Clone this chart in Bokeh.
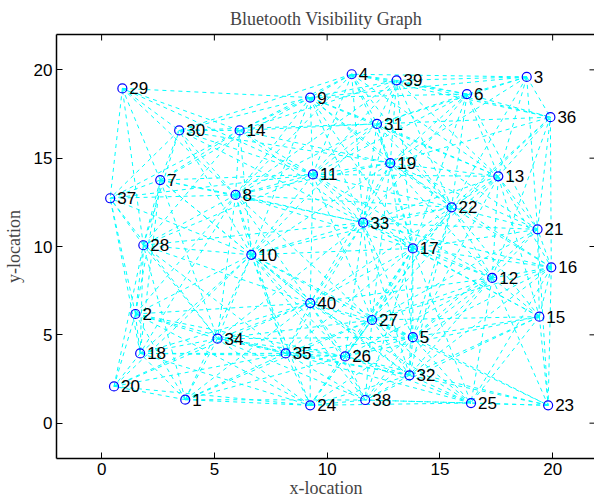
from bokeh.plotting import figure
from bokeh.models import LinearAxis, Range1d, FixedTicker, ColumnDataSource
from bokeh.embed import file_html
from bokeh.resources import INLINE
from bokeh.core.properties import value

# Node positions (ids 1..40)
node_id = list(range(1, 41))
node_x = [3.71, 1.50, 18.85, 11.09, 13.80, 16.20, 2.60, 5.94, 9.25, 6.64,
          9.37, 17.32, 17.59, 6.12, 19.41, 19.94, 13.80, 1.71, 12.80, 0.55,
          19.33, 15.52, 19.80, 9.25, 16.38, 10.80, 11.99, 1.85, 0.92, 3.44,
          12.21, 13.65, 11.60, 5.14, 8.16, 19.90, 0.38, 11.69, 13.08, 9.25]
node_y = [1.33, 6.18, 19.60, 19.75, 4.87, 18.63, 13.76, 12.92, 18.43, 9.53,
          14.08, 8.22, 13.97, 16.57, 6.03, 8.82, 9.89, 3.95, 14.72, 2.08,
          10.97, 12.22, 1.01, 1.01, 1.14, 3.78, 5.84, 10.07, 18.95, 16.57,
          16.94, 2.71, 11.35, 4.78, 3.95, 17.32, 12.73, 1.31, 19.40, 6.80]
bt_range = 10.0  # visibility radius
x_ticks = [0, 5, 10, 15, 20]
y_ticks = [0, 5, 10, 15, 20]
x_lim = (-2, 21.9)
y_lim = (-2, 22)

# visibility edges: nodes within range of each other
exs, eys = [], []
n = len(node_id)
for i in range(n):
    for j in range(i + 1, n):
        dx = node_x[i] - node_x[j]
        dy = node_y[i] - node_y[j]
        if (dx * dx + dy * dy) ** 0.5 <= bt_range:
            exs.append([node_x[i], node_x[j]])
            eys.append([node_y[i], node_y[j]])

p = figure(frame_width=539, frame_height=424, output_backend="svg", toolbar_location=None,
           x_range=Range1d(*x_lim), y_range=Range1d(*y_lim),
           title="Bluetooth Visibility Graph",
           min_border_left=47, min_border_right=0, min_border_top=25,
           min_border_bottom=20)
p.grid.visible = False
p.outline_line_color = None
p.background_fill_color = "white"
p.border_fill_color = "white"

p.title.align = "center"
p.title.text_font = "Liberation Serif"
p.title.text_font_size = "18px"
p.title.text_font_style = "normal"
p.title.standoff = 12

sans = "Liberation Sans"
for ax, ticks in ((p.xaxis[0], x_ticks), (p.yaxis[0], y_ticks)):
    ax.ticker = FixedTicker(ticks=ticks)
    ax.major_tick_in = 6
    ax.major_tick_out = 0
    ax.minor_tick_line_color = None
    ax.axis_line_width = 1.5
    ax.major_tick_line_width = 1
    ax.major_label_text_font = sans
    ax.major_label_text_font_size = "17px"
    ax.major_label_text_color = "black"
    ax.axis_label_text_font = "Liberation Serif"
    ax.axis_label_text_font_size = "18px"
    ax.axis_label_text_font_style = "normal"

p.xaxis.axis_label = "x-location"
p.yaxis.axis_label = "y-location"
p.xaxis.major_label_standoff = 4
p.xaxis.axis_label_standoff = 0
p.yaxis.major_label_standoff = 4
p.yaxis.axis_label_standoff = 7

# top box edge (line only, no ticks/labels)
top = LinearAxis(ticker=FixedTicker(ticks=[]), major_tick_in=0, major_tick_out=0,
                 minor_tick_line_color=None, axis_line_width=1.5, major_label_standoff=0)
p.add_layout(top, "above")

p.multi_line(xs=exs, ys=eys, line_color="#00ffff", line_width=1, line_dash="4 4")

# inward tick marks on the top and right edges (half of each dash is clipped)
p.scatter(x=x_ticks, y=[y_lim[1]] * len(x_ticks), marker="dash", angle=1.5708,
          size=12, line_color="black", line_width=1)
p.scatter(x=[x_lim[1]] * len(y_ticks), y=y_ticks, marker="dash",
          size=12, line_color="black", line_width=1)

src = ColumnDataSource(dict(x=node_x, y=node_y, lab=[str(k) for k in node_id]))
p.scatter("x", "y", source=src, marker="circle", size=9, fill_color=None,
          line_color="#0000ff", line_width=1.2)
p.text("x", "y", text="lab", source=src, x_offset=7, text_baseline="middle",
       text_font=value(sans), text_font_size="17px", text_color="black")

open("out.html", "w").write(file_html(p, INLINE))
